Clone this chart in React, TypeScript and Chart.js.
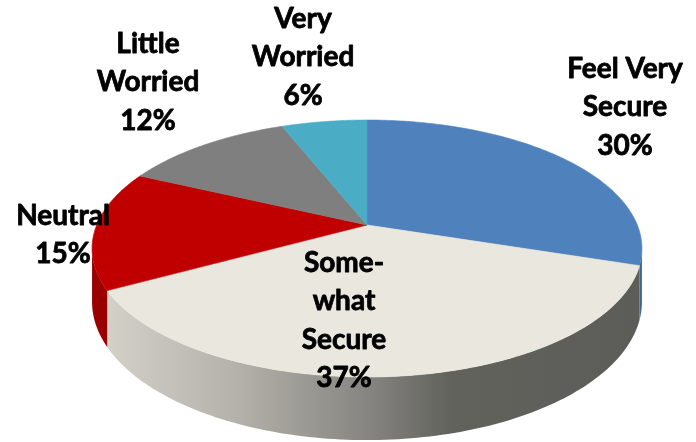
import React, { useEffect, useRef } from "react";
import { Chart, registerables } from "chart.js";

Chart.register(...registerables);

// ---- data ----
const categories: string[][] = [
  ["Feel Very", "Secure"],
  ["Some-", "what", "Secure"],
  ["Neutral"],
  ["Little", "Worried"],
  ["Very", "Worried"],
];
const values: number[] = [30, 37, 15, 12, 6];

// ---- styles ----
const topColors = ["#4F81BD", "#EAE8DE", "#C00000", "#7F7F7F", "#4BACC6"];
const sideColors = ["#3E6699", "#BDBBB2", "#9A0000", "#666666", "#3A8BA0"];

// label anchors: centre x, first baseline y
const labelAnchors: [number, number][] = [
  [625, 78],
  [344, 272],
  [63, 225],
  [148, 53],
  [303, 28],
];
const LINE_STEP = 38.3;
const FONT = "bold 28px Lato, 'Open Sans', sans-serif";

// ---- 3D projection geometry ----
const CX = 367;
const CY = 225;
const RX = 270.3;
const RY = 124.2;
const K = 0.183; // perspective factor
const DEPTH = 51.5;

function proj(theta: number, drop: boolean): [number, number] {
  // theta measured clockwise from top (far side)
  const X = Math.sin(theta);
  const Y = Math.cos(theta);
  const s = 1 + K * Y;
  return [CX + (RX * X) / s, CY - (RY * Y) / s + (drop ? DEPTH / s : 0)];
}

const pie3d = {
  id: "pie3d",
  beforeDatasetsDraw(chart: any) {
    const ctx: CanvasRenderingContext2D = chart.ctx;
    const meta = chart.getDatasetMeta(0);
    const thR = Math.acos(-K);
    const thL = 2 * Math.PI - thR;
    const steps = 120;

    // side walls
    meta.data.forEach((arc: any, i: number) => {
      const ts = arc.startAngle + Math.PI / 2;
      const te = arc.endAngle + Math.PI / 2;
      const t0 = Math.max(ts, thR);
      const t1 = Math.min(te, thL);
      if (t1 <= t0) return;
      ctx.save();
      ctx.beginPath();
      for (let j = 0; j <= steps; j++) {
        const t = t0 + ((t1 - t0) * j) / steps;
        const [x, y] = proj(t, false);
        if (j === 0) ctx.moveTo(x, y);
        else ctx.lineTo(x, y);
      }
      for (let j = steps; j >= 0; j--) {
        const t = t0 + ((t1 - t0) * j) / steps;
        const [x, y] = proj(t, true);
        ctx.lineTo(x, y);
      }
      ctx.closePath();
      if (i === 1) {
        const g = ctx.createLinearGradient(100, 0, 640, 0);
        g.addColorStop(0, "#D4D2C9");
        g.addColorStop(0.25, "#B4B2AA");
        g.addColorStop(0.5, "#858480");
        g.addColorStop(0.65, "#62625D");
        g.addColorStop(1, "#5C5C58");
        ctx.fillStyle = g;
      } else {
        ctx.fillStyle = sideColors[i];
      }
      ctx.fill();
      ctx.restore();
    });

    // top faces
    meta.data.forEach((arc: any, i: number) => {
      const ts = arc.startAngle + Math.PI / 2;
      const te = arc.endAngle + Math.PI / 2;
      ctx.save();
      ctx.beginPath();
      ctx.moveTo(CX, CY);
      for (let j = 0; j <= steps; j++) {
        const t = ts + ((te - ts) * j) / steps;
        const [x, y] = proj(t, false);
        ctx.lineTo(x, y);
      }
      ctx.closePath();
      ctx.fillStyle = topColors[i];
      ctx.fill();
      ctx.strokeStyle = topColors[i];
      ctx.lineWidth = 0.6;
      ctx.stroke();
      ctx.restore();
    });
    return false;
  },
  afterDraw(chart: any) {
    const ctx: CanvasRenderingContext2D = chart.ctx;
    const labels: string[][] = chart.data.labels;
    const data: number[] = chart.data.datasets[0].data;
    ctx.save();
    ctx.font = FONT;
    ctx.fillStyle = "#000000";
    ctx.strokeStyle = "#000000";
    ctx.lineWidth = 0.8;
    ctx.lineJoin = "round";
    ctx.textAlign = "center";
    ctx.textBaseline = "alphabetic";
    labels.forEach((lines, i) => {
      const [x, y] = labelAnchors[i];
      const all = [...lines, `${data[i]}%`];
      all.forEach((ln, j) => {
        ctx.fillText(ln, x, y + j * LINE_STEP);
        ctx.strokeText(ln, x, y + j * LINE_STEP);
      });
    });
    ctx.restore();
  },
};

export default function App() {
  const ref = useRef<HTMLCanvasElement | null>(null);
  useEffect(() => {
    document.body.style.margin = "0";
    const canvas = ref.current!;
    const chart = new Chart(canvas, {
      type: "pie",
      data: {
        labels: categories,
        datasets: [
          {
            data: values,
            backgroundColor: topColors,
            borderWidth: 0,
          },
        ],
      },
      options: {
        responsive: false,
        animation: false,
        events: [],
        layout: { padding: 0 },
        plugins: {
          legend: { display: false },
          tooltip: { enabled: false },
        },
      },
      plugins: [pie3d],
    });
    return () => chart.destroy();
  }, []);
  return (
    <div style={{ width: 696, height: 442, background: "#ffffff" }}>
      <canvas ref={ref} width={696} height={442} />
    </div>
  );
}
